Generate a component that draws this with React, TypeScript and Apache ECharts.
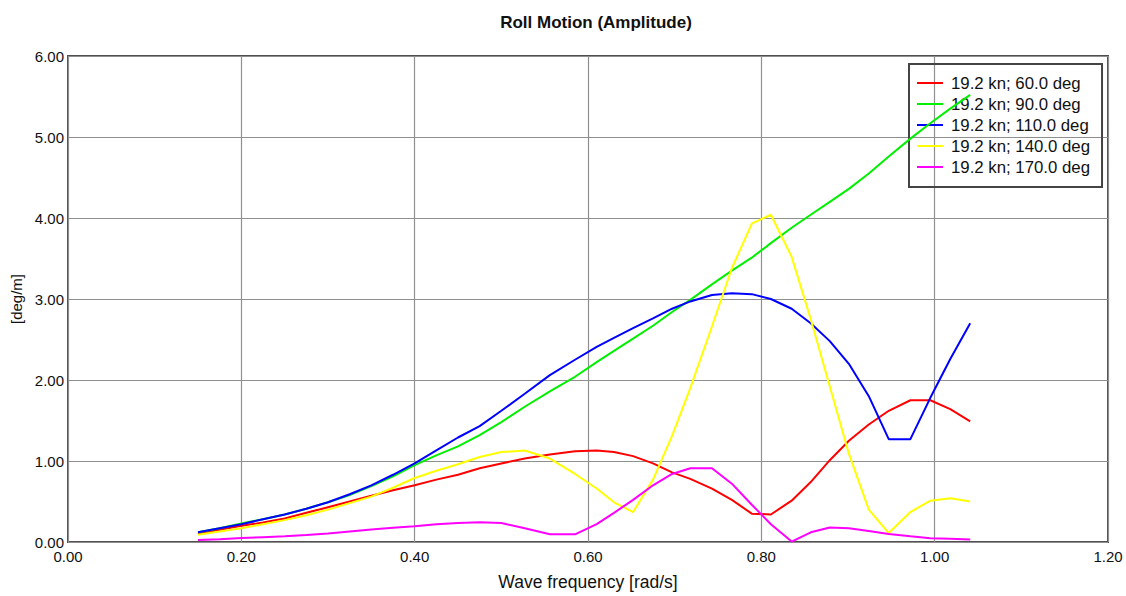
import React, { useEffect, useRef } from "react";
import * as echarts from "echarts";

const titleText = "Roll Motion (Amplitude)";
const xAxisName = "Wave frequency [rad/s]";
const yAxisName = "[deg/m]";

const seriesNames = [
  "19.2 kn; 60.0 deg",
  "19.2 kn; 90.0 deg",
  "19.2 kn; 110.0 deg",
  "19.2 kn; 140.0 deg",
  "19.2 kn; 170.0 deg",
];
const seriesColors = ["#ff0000", "#00f000", "#0000ff", "#ffff00", "#ff00ff"];

const freq = [
  0.15, 0.175, 0.2, 0.225, 0.25, 0.275, 0.3, 0.325, 0.35, 0.375, 0.4, 0.425,
  0.45, 0.475, 0.5, 0.527, 0.556, 0.585, 0.61, 0.63, 0.652, 0.675, 0.697,
  0.718, 0.743, 0.766, 0.789, 0.811, 0.835, 0.857, 0.879, 0.901, 0.924, 0.947,
  0.972, 0.995, 1.018, 1.041,
];

const roll60 = [
  0.1, 0.15, 0.2, 0.24, 0.29, 0.36, 0.43, 0.5, 0.57, 0.64, 0.7, 0.77, 0.83,
  0.91, 0.97, 1.03, 1.08, 1.12, 1.13, 1.11, 1.06, 0.97, 0.86, 0.78, 0.66,
  0.52, 0.35, 0.34, 0.51, 0.74, 1.01, 1.25, 1.45, 1.62, 1.75, 1.75, 1.64,
  1.49,
];

const roll90 = [
  0.12, 0.17, 0.23, 0.28, 0.34, 0.41, 0.49, 0.58, 0.69, 0.81, 0.95, 1.07,
  1.18, 1.32, 1.48, 1.67, 1.86, 2.04, 2.22, 2.36, 2.51, 2.67, 2.84, 2.99,
  3.18, 3.35, 3.51, 3.69, 3.88, 4.04, 4.2, 4.36, 4.55, 4.76, 4.98, 5.17, 5.35,
  5.52,
];

const roll110 = [
  0.12, 0.17, 0.22, 0.28, 0.34, 0.41, 0.49, 0.59, 0.7, 0.83, 0.97, 1.13, 1.29,
  1.43, 1.62, 1.83, 2.06, 2.25, 2.41, 2.52, 2.64, 2.76, 2.88, 2.97, 3.05,
  3.07, 3.06, 3.0, 2.88, 2.7, 2.48, 2.2, 1.8, 1.27, 1.27, 1.78, 2.26, 2.7,
];

const roll140 = [
  0.09, 0.13, 0.17, 0.22, 0.27, 0.33, 0.4, 0.48, 0.56, 0.67, 0.79, 0.88, 0.96,
  1.05, 1.11, 1.13, 1.03, 0.84, 0.66, 0.49, 0.37, 0.77, 1.31, 1.9, 2.66, 3.38,
  3.93, 4.04, 3.52, 2.75, 1.92, 1.09, 0.4, 0.11, 0.37, 0.51, 0.54, 0.5,
];

const roll170 = [
  0.025, 0.035, 0.05, 0.06, 0.07, 0.085, 0.105, 0.13, 0.155, 0.175, 0.195,
  0.22, 0.235, 0.245, 0.235, 0.17, 0.095, 0.095, 0.22, 0.36, 0.52, 0.7, 0.84,
  0.91, 0.91, 0.72, 0.46, 0.22, 0.005, 0.12, 0.18, 0.17, 0.135, 0.1, 0.07,
  0.045, 0.04, 0.03,
];

const seriesValues = [roll60, roll90, roll110, roll140, roll170];

const FONT = '"Liberation Sans", Arial, sans-serif';

export default function App() {
  const ref = useRef<HTMLDivElement>(null);

  useEffect(() => {
    if (!ref.current) return;
    const chart = echarts.init(ref.current, null, { renderer: "svg" });
    chart.setOption({
      animation: false,
      backgroundColor: "#ffffff",
      textStyle: { fontFamily: FONT },
      title: {
        text: titleText,
        left: 591,
        top: 9,
        textAlign: "center",
        textStyle: {
          fontFamily: FONT,
          fontSize: 17,
          fontWeight: "bold",
          color: "#111",
        },
      },
      legend: {
        orient: "vertical",
        left: 909,
        top: 64,
        padding: [8.5, 12, 9.5, 8],
        itemGap: 0,
        itemWidth: 26,
        itemHeight: 2,
        icon: "rect",
        borderColor: "#444",
        borderWidth: 2,
        backgroundColor: "transparent",
        textStyle: {
          fontFamily: FONT,
          fontSize: 16.8,
          lineHeight: 21,
          color: "#111",
          padding: [0, 0, 0, 3],
        },
        data: seriesNames,
      },
      grid: {
        left: 68,
        right: 18,
        top: 56,
        bottom: 50,
        show: true,
        borderColor: "#505050",
        borderWidth: 2,
        backgroundColor: "transparent",
      },
      xAxis: {
        type: "value",
        min: 0,
        max: 1.2,
        interval: 0.2,
        name: xAxisName,
        nameLocation: "middle",
        nameGap: 31,
        nameTextStyle: { fontFamily: FONT, fontSize: 17.5, color: "#111" },
        axisLine: { show: false },
        axisTick: { show: false },
        axisLabel: {
          margin: 7,
          fontFamily: FONT,
          fontSize: 15,
          color: "#111",
          formatter: (v: number) => v.toFixed(2),
        },
        splitLine: { show: true, lineStyle: { color: "#8f8f8f", width: 1.2 } },
      },
      yAxis: {
        type: "value",
        min: 0,
        max: 6,
        interval: 1,
        name: yAxisName,
        nameLocation: "middle",
        nameGap: 42,
        nameRotate: 90,
        nameTextStyle: { fontFamily: FONT, fontSize: 15, color: "#111" },
        axisLine: { show: false },
        axisTick: { show: false },
        axisLabel: {
          margin: 4,
          fontFamily: FONT,
          fontSize: 15,
          color: "#111",
          formatter: (v: number) => v.toFixed(2),
        },
        splitLine: { show: true, lineStyle: { color: "#8f8f8f", width: 1.2 } },
      },
      series: seriesNames.map((name, si) => ({
        name,
        type: "line",
        showSymbol: false,
        symbol: "none",
        smooth: false,
        z: 5,
        itemStyle: { color: seriesColors[si] },
        lineStyle: { color: seriesColors[si], width: 2 },
        data: freq.map((f, i) => [f, seriesValues[si][i]]),
      })),
    });
    return () => chart.dispose();
  }, []);

  return (
    <div
      ref={ref}
      style={{ position: "fixed", left: 0, top: 0, width: 1126, height: 596 }}
    />
  );
}
